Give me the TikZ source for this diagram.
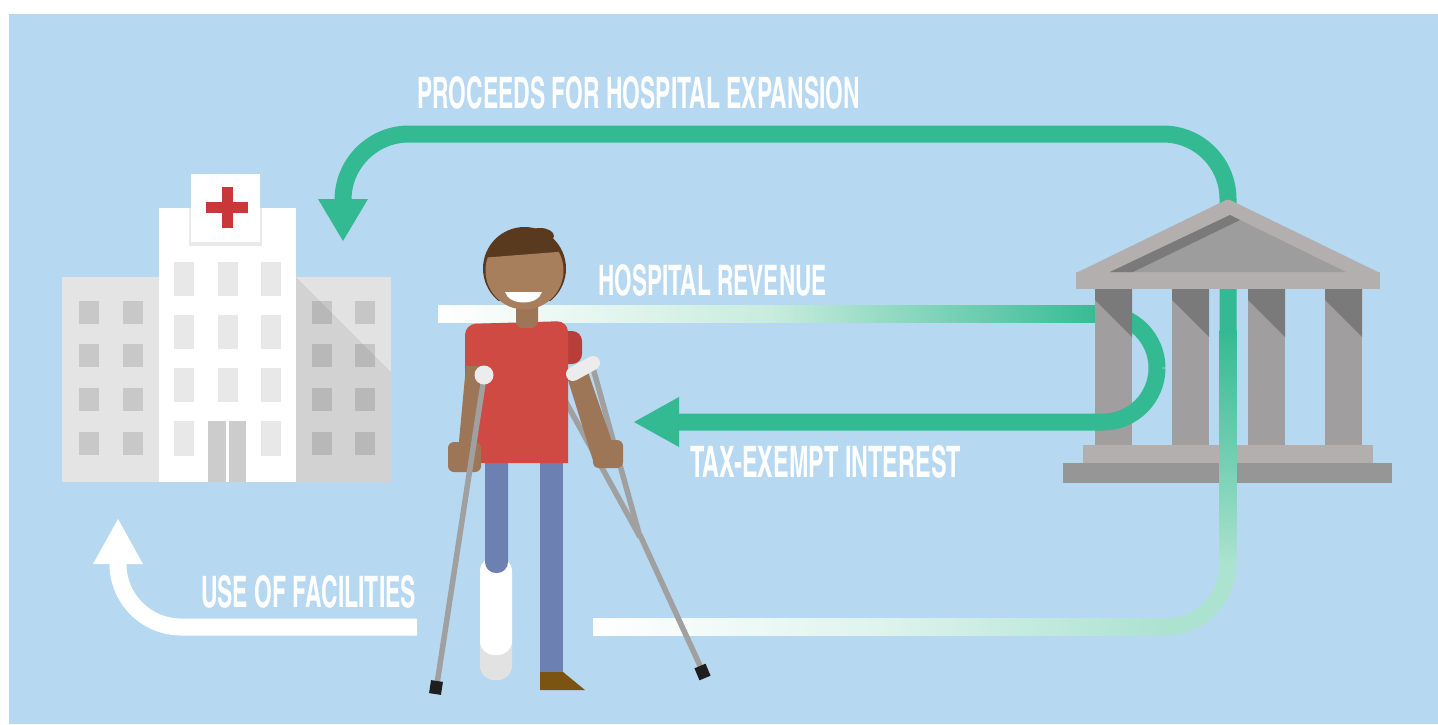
\documentclass[tikz,border=0pt]{standalone}
\usepackage{fontspec}
\usepackage{graphicx}
\newfontfamily\lblfont{texgyreheroscn-bold}[Extension=.otf]
\usetikzlibrary{calc}

\definecolor{bgblue}{RGB}{183,216,241}
\definecolor{grn}{RGB}{52,186,146}
\definecolor{midgrn}{RGB}{200,236,222}
\definecolor{palegrn}{RGB}{172,226,208}
\definecolor{lowgrn}{RGB}{222,244,236}
\definecolor{vertmid}{RGB}{110,205,175}
% hospital
\definecolor{wingL}{RGB}{228,228,228}
\definecolor{winL}{RGB}{200,200,200}
\definecolor{wingR}{RGB}{226,226,226}
\definecolor{wingRsh}{RGB}{210,210,210}
\definecolor{towerwin}{RGB}{232,232,232}
\definecolor{door}{RGB}{204,204,204}
\definecolor{signsh}{RGB}{234,234,234}
\definecolor{crossred}{RGB}{200,56,56}
% bank
\definecolor{banklt}{RGB}{178,175,174}
\definecolor{bankmid}{RGB}{158,157,157}
\definecolor{bankshd}{RGB}{122,122,122}
\definecolor{bankcol}{RGB}{160,158,158}
\definecolor{bankdk}{RGB}{150,150,150}
% patient
\definecolor{skin}{RGB}{168,127,92}
\definecolor{skindk}{RGB}{156,118,86}
\definecolor{hair}{RGB}{90,58,30}
\definecolor{shirt}{RGB}{208,74,68}
\definecolor{sleeve}{RGB}{184,62,58}
\definecolor{jeans}{RGB}{108,128,178}
\definecolor{castgrey}{RGB}{226,226,226}
\definecolor{shoe}{RGB}{123,84,18}
\definecolor{crutch}{RGB}{160,160,160}
\definecolor{tipblk}{RGB}{30,30,30}
\definecolor{cuff}{RGB}{236,236,236}

\tikzset{
  lbl/.style={inner sep=0pt, outer sep=0pt, text=white},
  flow/.style={line width=17pt},
  rod/.style={crutch, line width=5.5pt},
  ferrule/.style={tipblk, line width=12pt}
}

\newcommand{\flowlabel}[3]{\resizebox{#1pt}{#2pt}{\lblfont #3}}

\begin{document}
\begin{tikzpicture}[x=1pt,y=-1pt]
\useasboundingbox (0,0) rectangle (1438,724);
\fill[white] (0,0) rectangle (1438,724);
\fill[bgblue] (9,14) rectangle (1438,724);

% ---------------- hospital ----------------
\coordinate (hospital) at (227,330);
\fill[wingL] (62,277) rectangle (159,482);
\foreach \y in {301,344,388,432}
  \foreach \x in {79,123}
    \fill[winL] (\x,\y) rectangle ++(20,23);
\fill[wingR] (296,277) rectangle (391,482);
\fill[wingRsh] (296,277) -- (391,372) -- (391,482) -- (296,482) -- cycle;
\foreach \y in {301,344,388,432}
  \foreach \x in {312,355}
    \fill[black, opacity=0.12] (\x,\y) rectangle ++(20,23);
\fill[white] (159,208) rectangle (296,482);
\foreach \y in {262,315,368}
  \foreach \x in {174,218,261}
    \fill[towerwin] (\x,\y) rectangle ++(20,34);
\foreach \x in {174,261}
  \fill[towerwin] (\x,421) rectangle ++(20,35);
\fill[door] (208,421) rectangle (246,482);
\fill[white] (225.5,421) rectangle (228.5,482);
\fill[signsh] (189,208) rectangle (262,246);
\fill[white] (191,174) rectangle (260,242);
\fill[crossred] (206,202) rectangle (248,213);
\fill[crossred] (222,187) rectangle (233,228);

% ---------------- bank: base steps ----------------
\coordinate (bank) at (1228,340);
\fill[bankdk] (1063,463) rectangle (1392,483);
\fill[banklt] (1083,445) rectangle (1373,463);

% ---------------- proceeds flow (patient -> bank -> hospital) ----------------
\coordinate (pStart) at (593,627);
\coordinate (pCorner) at (1165,627);
\coordinate (pUp) at (1228,564);
\coordinate (pTop) at (1228,199);
\coordinate (pHead) at (343,241);
\shade[left color=white, right color=palegrn, middle color=lowgrn]
  (pStart) ++(0,-8.5) rectangle ($(pCorner)+(0.5,8.5)$);
\draw[palegrn, flow] (pUp) arc[start angle=0, end angle=90, radius=63];
\shade[top color=grn, bottom color=palegrn, middle color=vertmid]
  (1219.5,330) rectangle (1236.5,564.5);
\draw[grn, flow] (1228,331) -- (pTop) arc[start angle=0, end angle=-90, radius=65]
  -- (409,134) arc[start angle=-90, end angle=-180, radius=66] -- (343,203);
\fill[grn] (318,199) -- (368,199) -- (pHead) -- cycle;

% ---------------- revenue loop, upper half (behind first column) ----------------
\coordinate (rStart) at (438,314);
\shade[left color=white, right color=grn, middle color=midgrn]
  (438,305.5) rectangle (1104,322.5);
\draw[grn, flow] (1103,314) arc[start angle=-90, end angle=0, radius=54];

% ---------------- bank: columns ----------------
\foreach \x in {1095,1172,1248,1325} {
  \fill[bankcol] (\x,288) rectangle ++(37,157);
  \fill[bankshd] (\x,288) -- ++(37,0) -- ++(0,49) -- (\x,300) -- cycle;
}

% ---------------- revenue loop, lower half + tax-exempt interest ----------------
\coordinate (tHead) at (634,422);
\draw[grn, flow] (1157,368) arc[start angle=0, end angle=90, radius=54] -- (678,422);
\fill[grn] (679,397) -- (679,447) -- (tHead) -- cycle;

% ---------------- bank: roof ----------------
\fill[banklt, rounded corners=2pt] (1076,273) -- (1228,199) -- (1380,273) -- cycle;
\fill[banklt] (1076,272) rectangle (1380,289);
\fill[bankmid] (1110,272) -- (1230,215) -- (1346,272) -- cycle;
\fill[bankshd] (1110,272) -- (1230,215) -- (1240,220) -- (1133,272) -- cycle;

% ---------------- use of facilities ----------------
\coordinate (uStart) at (417,627);
\coordinate (uHead) at (118,519);
\draw[white, flow] (uStart) -- (181,627) arc[start angle=90, end angle=180, radius=63] -- (118,562);
\fill[white] (93,564) -- (143,564) -- (uHead) -- cycle;

% ---------------- patient ----------------
\coordinate (patient) at (524,420);
% legs and cast
\fill[castgrey, rounded corners=14pt] (480,600) rectangle (512,680);
\fill[white, rounded corners=14pt] (480,557) rectangle (512,655);
\fill[jeans, rounded corners=11pt] (485,440) rectangle (508,573);
\fill[jeans] (540,440) rectangle (563,673);
\fill[shoe] (540,672) -- (563,672) -- (585,690) -- (540,690) -- cycle;
% right crutch rails behind the shirt
\draw[rod] (593,368) -- (640,537);
\draw[rod] (562,395) -- (640,537);
\draw[rod] (640,535) -- (702,670);
% shirt
\fill[sleeve, rounded corners=10pt] (552,331) rectangle (582,364);
\fill[shirt] (465,463) [rounded corners=11pt] -- (465,324) -- (568,321) [sharp corners] -- (568,463) -- cycle;
% neck and head
\fill[skindk, rounded corners=7pt] (516,298) rectangle (538,328);
\begin{scope}
  \clip (470,220) rectangle (580,300);
  \fill[hair] (524.5,268.5) circle[radius=41.5];
\end{scope}
\fill[hair] (540,236) ellipse[x radius=14, y radius=8];
\begin{scope}
  \clip (480,258) -- (570,251) -- (570,320) -- (480,320) -- cycle;
  \fill[skin] (524.5,270.5) circle[radius=39];
\end{scope}
\fill[white] (505,292) .. controls (509,306) and (538,306) .. (542,292) -- cycle;
% right arm, hand and cuff
\fill[skindk] (568,380) -- (588,372) -- (619,462) -- (595,467) -- cycle;
\fill[skindk, rounded corners=6pt] (593,440) rectangle (623,468);
\draw[cuff, line width=14pt, line cap=round] (573,374) -- (593,363);
\draw[ferrule] (700,666) -- (705,678);
% left arm and crutch
\fill[skindk] (466,366) -- (481,366) -- (474,452) -- (458,452) -- cycle;
\fill[skindk, rounded corners=6pt] (448,442) rectangle (481,472);
\draw[rod] (484,377) -- (437,684);
\fill[cuff] (484,375) circle[radius=9.5];
\draw[ferrule] (437,681) -- (435,694);

% ---------------- captions ----------------
\node[lbl, anchor=north west] (tProceeds) at (417,76)
  {\flowlabel{443}{32}{PROCEEDS FOR HOSPITAL EXPANSION}};
\node[lbl, anchor=north west] (tRevenue) at (598,264)
  {\flowlabel{229}{31}{HOSPITAL REVENUE}};
\node[lbl, anchor=north west] (tInterest) at (690,445)
  {\flowlabel{271}{32}{TAX-EXEMPT INTEREST}};
\node[lbl, anchor=north west] (tUse) at (201,575)
  {\flowlabel{215}{32}{USE OF FACILITIES}};
\end{tikzpicture}
\end{document}
